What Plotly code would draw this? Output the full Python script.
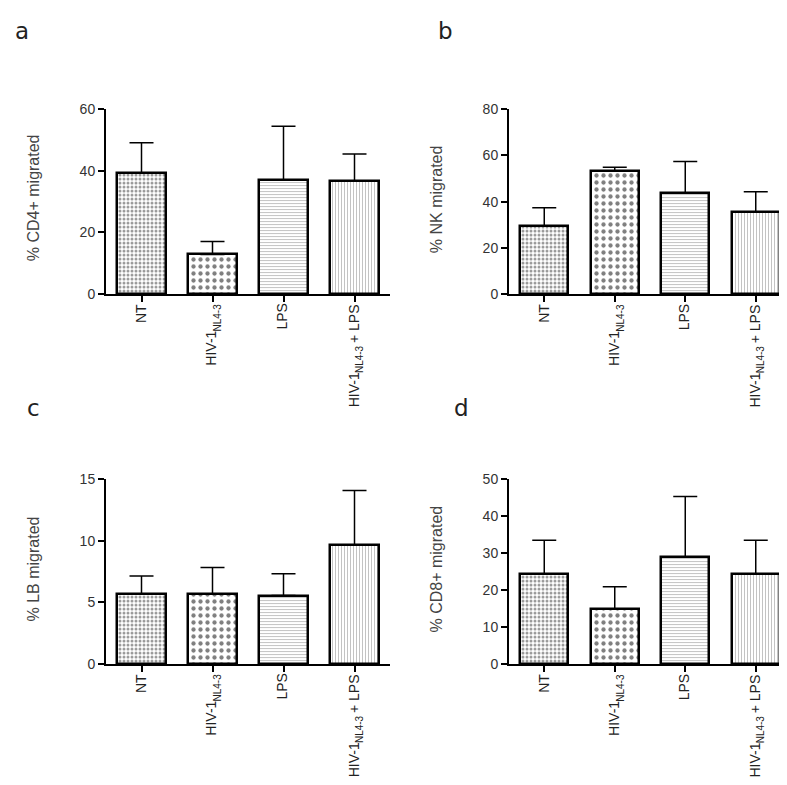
import plotly.graph_objects as go
import numpy as np

categories = ["NT", "HIV-1<sub>NL4-3</sub>", "LPS", "HIV-1<sub>NL4-3</sub> + LPS"]
# the same labels split into (text, is_subscript) pieces, for drawing rotated
category_pieces = [
    [("NT", False)],
    [("HIV-1", False), ("NL4-3", True)],
    [("LPS", False)],
    [("HIV-1", False), ("NL4-3", True), ("+ LPS", False)],
]

cd4_mean = [39.3, 12.9, 36.9, 36.6]
cd4_top = [49.1, 17.1, 54.4, 45.4]
nk_mean = [29.5, 53.3, 43.7, 35.4]
nk_top = [37.4, 54.9, 57.3, 44.3]
lb_mean = [5.71, 5.71, 5.56, 9.63]
lb_top = [7.14, 7.83, 7.33, 14.08]
cd8_mean = [24.4, 15.0, 28.9, 24.4]
cd8_top = [33.5, 20.9, 45.3, 33.5]

panels = [
    dict(letter="a", title="% CD4+ migrated", mean=cd4_mean, top=cd4_top, ymax=60, dtick=20),
    dict(letter="b", title="% NK migrated", mean=nk_mean, top=nk_top, ymax=80, dtick=20),
    dict(letter="c", title="% LB migrated", mean=lb_mean, top=lb_top, ymax=15, dtick=5),
    dict(letter="d", title="% CD8+ migrated", mean=cd8_mean, top=cd8_top, ymax=50, dtick=10),
]

W, H = 787, 785
# pixel boxes: (x0, x1, ytop, ybottom)
boxes = [(98, 382, 95, 284), (501, 783, 95, 284), (98, 382, 472.7, 661.7), (501, 783, 472.7, 661.7)]
letter_pos = [(14, 15), (437, 15), (25, 400), (453, 400)]
title_pos = [(25, 186), (428, 187), (25, 565), (428, 565)]

patterns = [
    dict(shape=".", size=4, solidity=0.45, fgcolor="#333333", bgcolor="#ffffff"),
    dict(shape=".", size=7, solidity=0.3, fgcolor="#000000", bgcolor="#ffffff"),
    dict(shape="-", size=3, solidity=0.35, fgcolor="#888888", bgcolor="#ffffff"),
    dict(shape="|", size=3, solidity=0.35, fgcolor="#888888", bgcolor="#ffffff"),
]

font_family = "Liberation Sans, Arial, sans-serif"
MAIN_SIZE, SUB_SIZE = 14, 10
# Arial/Liberation Sans advance widths (per 1000 em)
ADV = {"H": 722, "I": 278, "V": 667, "-": 333, "1": 556, "N": 722, "L": 556, "4": 556,
       "3": 556, " ": 278, "+": 584, "P": 667, "S": 667, "T": 611}


def text_width(s, size):
    return sum(ADV.get(c, 556) for c in s) * size / 1000.0


fig = go.Figure()
annotations = []

for i, p in enumerate(panels):
    n = i + 1
    xa = "x" if n == 1 else f"x{n}"
    ya = "y" if n == 1 else f"y{n}"
    mean = np.array(p["mean"])
    top = np.array(p["top"])
    for j, cat in enumerate(categories):
        fig.add_trace(go.Bar(
            x=[j], y=[mean[j]], xaxis=xa, yaxis=ya, width=0.68, name=cat,
            marker=dict(color="white", line=dict(color="black", width=2.5), pattern=patterns[j]),
            error_y=dict(type="data", symmetric=False, array=[top[j] - mean[j]], arrayminus=[0],
                         color="black", thickness=1.5, width=12),
            showlegend=False,
        ))
    x0, x1, yt, yb = boxes[i]
    xkey = "xaxis" if n == 1 else f"xaxis{n}"
    ykey = "yaxis" if n == 1 else f"yaxis{n}"
    fig.layout[xkey] = dict(
        domain=[x0 / W, x1 / W], range=[-0.5, 3.5], anchor=ya,
        tickmode="array", tickvals=list(range(4)), showticklabels=False,
        showline=True, linecolor="black", linewidth=2, ticks="outside", ticklen=6,
        tickwidth=2, tickcolor="black", showgrid=False, zeroline=False,
    )
    fig.layout[ykey] = dict(
        domain=[1 - yb / H, 1 - yt / H], range=[0, p["ymax"]], anchor=xa,
        tickmode="linear", tick0=0, dtick=p["dtick"],
        showline=True, linecolor="black", linewidth=2, ticks="outside", ticklen=6,
        tickwidth=2, tickcolor="black", showgrid=False, zeroline=False,
        tickfont=dict(family=font_family, size=14, color="#333333"),
    )
    # category labels, rotated, reading bottom to top and ending just under the tick
    for j, pieces in enumerate(category_pieces):
        y_cursor = yb + 10
        for k, (txt, is_sub) in enumerate(reversed(pieces)):
            size = SUB_SIZE if is_sub else MAIN_SIZE
            annotations.append(dict(
                text=txt, textangle=-90, xref=xa, yref="paper",
                x=j, y=1 - y_cursor / H, showarrow=False,
                xshift=5 if is_sub else -1,
                font=dict(family=font_family, size=size, color="#222222"),
                xanchor="center", yanchor="top", borderpad=0, borderwidth=0,
            ))
            y_cursor += text_width(txt, size)
            if txt.startswith("+"):
                y_cursor += text_width(" ", MAIN_SIZE)
    tx, ty = title_pos[i]
    annotations.append(dict(
        text=p["title"], textangle=-90, xref="paper", yref="paper",
        x=tx / W, y=1 - ty / H, showarrow=False,
        font=dict(family=font_family, size=16, color="#444444"),
        xanchor="center", yanchor="middle",
    ))
    lx, ly = letter_pos[i]
    annotations.append(dict(
        text=p["letter"], xref="paper", yref="paper", x=lx / W, y=1 - ly / H,
        showarrow=False, font=dict(family="DejaVu Sans, sans-serif", size=23, color="#222222"),
        xanchor="center", yanchor="middle",
    ))

fig.update_layout(
    width=W, height=H, margin=dict(l=0, r=0, t=0, b=0),
    plot_bgcolor="white", paper_bgcolor="white",
    annotations=annotations, bargap=0,
)

fig.write_html("out.html")
